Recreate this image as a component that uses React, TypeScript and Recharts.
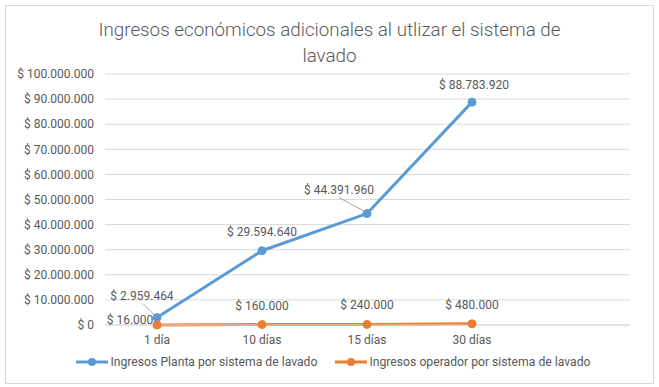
import React from 'react';
import { LineChart, Line, XAxis, YAxis, CartesianGrid, Legend, LabelList } from 'recharts';

const categories = ['1 día', '10 días', '15 días', '30 días', ''];
const plantaValues = [2959464, 29594640, 44391960, 88783920, null];
const operadorValues = [16000, 160000, 240000, 480000, null];
const yTicks = [0, 10000000, 20000000, 30000000, 40000000, 50000000, 60000000, 70000000, 80000000, 90000000, 100000000];

const seriesNames = {
  planta: 'Ingresos Planta por sistema de lavado',
  operador: 'Ingresos operador por sistema de lavado',
};

const data = categories.map((c, i) => ({
  name: c,
  planta: plantaValues[i],
  operador: operadorValues[i],
}));

const BLUE = '#5B9BD5';
const ORANGE = '#ED7D31';
const TEXT = '#595959';
const FONT = 'Roboto, "Liberation Sans", sans-serif';

const money = (v: number) => '$ ' + String(v).replace(/\B(?=(\d{3})+(?!\d))/g, '.');

// Excel-like label placement, some labels pushed aside with a leader line
const PlantaLabel = (props: any) => {
  const { x, y, value, index } = props;
  if (value == null) return null;
  const place: Record<number, [number, number]> = { 0: [-15, -22], 1: [0, -19], 2: [-28, -24], 3: [2, -17] };
  const [dx, dy] = place[index] || [0, -18];
  const tx = x + dx;
  const ty = y + dy;
  return (
    <g>
      {(index === 0 || index === 2) && (
        <line x1={tx + (index === 0 ? 1 : 0)} y1={ty + 8} x2={x - 2} y2={y - 2} stroke="#A6A6A6" strokeWidth={1} />
      )}
      <text x={tx} y={ty} textAnchor="middle" dominantBaseline="central" fill={TEXT} fontSize={12} fontFamily={FONT}>
        {money(value)}
      </text>
    </g>
  );
};

const OperadorLabel = (props: any) => {
  const { x, y, value, index } = props;
  if (value == null) return null;
  const [dx, dy] = index === 0 ? [-27, -5] : [0, -19];
  return (
    <text x={x + dx} y={y + dy} textAnchor="middle" dominantBaseline="central" fill={TEXT} fontSize={12} fontFamily={FONT}>
      {money(value)}
    </text>
  );
};

const LegendContent = () => {
  const items = [
    { label: seriesNames.planta, color: BLUE },
    { label: seriesNames.operador, color: ORANGE },
  ];
  return (
    <div
      style={{
        display: 'flex',
        justifyContent: 'center',
        gap: 18,
        height: 24,
        paddingLeft: 8,
        alignItems: 'center',
        fontFamily: FONT,
        fontSize: 12.2,
        color: TEXT,
      }}
    >
      {items.map((it) => (
        <div key={it.label} style={{ display: 'flex', alignItems: 'center' }}>
          <svg width={32} height={10} style={{ marginRight: 2 }}>
            <line x1={0} y1={5} x2={32} y2={5} stroke={it.color} strokeWidth={3} />
            <circle cx={16} cy={5} r={4} fill={it.color} />
          </svg>
          <span>{it.label}</span>
        </div>
      ))}
    </div>
  );
};

export default function App() {
  return (
    <div style={{ position: 'absolute', left: 0, top: 0, width: 659, height: 387, background: '#fff' }}>
      <div style={{ position: 'absolute', left: 5, top: 5, width: 647, height: 377, border: '1px solid #D9D9D9' }} />
      <div
        style={{
          position: 'absolute',
          left: 0,
          top: 17,
          width: 659,
          textAlign: 'center',
          fontFamily: FONT,
          fontWeight: 300,
          fontSize: 18.8,
          lineHeight: '26px',
          color: TEXT,
        }}
      >
        Ingresos económicos adicionales al utlizar el sistema de
        <br />
        lavado
      </div>
      <LineChart width={659} height={387} data={data} margin={{ top: 74, right: 29, left: 0, bottom: 13 }}>
        <CartesianGrid vertical={false} stroke="#D9D9D9" />
        <XAxis
          dataKey="name"
          height={25}
          padding={{ left: 52, right: 53 }}
          tickLine={false}
          tickMargin={4}
          axisLine={{ stroke: '#D9D9D9' }}
          tick={{ fill: TEXT, fontSize: 12, fontFamily: FONT }}
          interval={0}
        />
        <YAxis
          width={105}
          domain={[0, 100000000]}
          ticks={yTicks}
          tickFormatter={money}
          axisLine={false}
          tickLine={false}
          tickMargin={5}
          tick={{ fill: TEXT, fontSize: 12, fontFamily: FONT }}
        />
        <Legend verticalAlign="bottom" wrapperStyle={{ left: 0, width: 659 }} content={<LegendContent />} />
        <Line
          type="linear"
          dataKey="planta"
          name={seriesNames.planta}
          stroke={BLUE}
          strokeWidth={3}
          dot={{ r: 4, fill: BLUE, stroke: BLUE, strokeWidth: 1 }}
          isAnimationActive={false}
        >
          <LabelList dataKey="planta" content={<PlantaLabel />} />
        </Line>
        <Line
          type="linear"
          dataKey="operador"
          name={seriesNames.operador}
          stroke={ORANGE}
          strokeWidth={3}
          dot={{ r: 4, fill: ORANGE, stroke: ORANGE, strokeWidth: 1 }}
          isAnimationActive={false}
        >
          <LabelList dataKey="operador" content={<OperadorLabel />} />
        </Line>
      </LineChart>
    </div>
  );
}
